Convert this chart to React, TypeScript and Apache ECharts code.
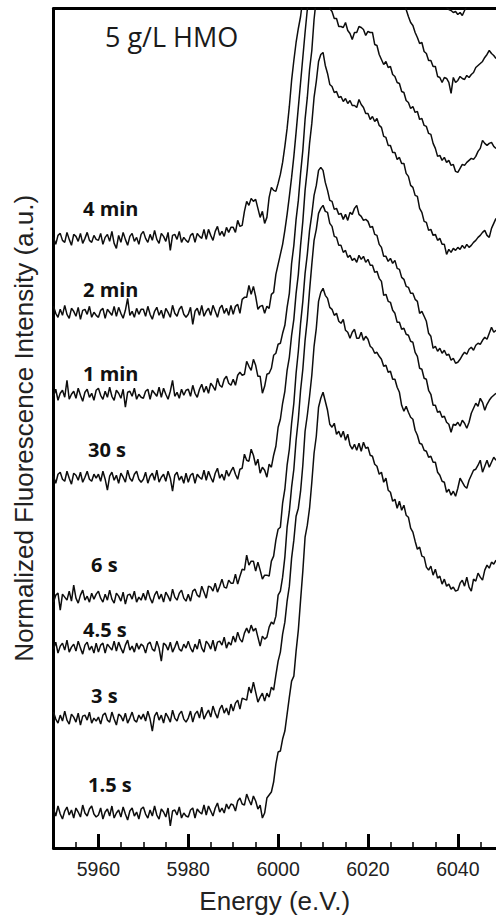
import { useEffect, useRef } from "react";
import * as echarts from "echarts";

// Energy grid (eV): 5950 ... 6048.5 every 0.5 eV
const ENERGY_START = 5950;
const ENERGY_STEP = 0.5;

const MAJOR_TICKS = [5960, 5980, 6000, 6020, 6040];
const MINOR_TICKS = [5955, 5965, 5970, 5975, 5985, 5990, 5995, 6005, 6010, 6015, 6025, 6030, 6035, 6045];

// Normalized fluorescence intensity (a.u., stacked with offsets as in the figure)
const S_1_5s = [
  39,32,42,34,29,37,41,33,38,30,40,36,31,43,35,32,39,42,34,31,
  33,40,29,36,39,32,42,30,35,38,31,41,34,28,37,40,32,36,29,39,
  41,34,30,38,32,42,33,29,39,36,31,40,22,37,38,33,41,30,35,32,
  31,38,40,30,39,36,34,43,33,42,37,32,40,45,36,40,35,44,39,44,
  43,37,47,50,44,43,54,48,43,52,47,39,43,30,35,50,53,56,66,84,
  96,97,109,117,134,151,167,172,197,218,248,277,311,323,340,366,395,412,441,450,
  456,447,438,424,421,425,414,417,411,417,408,414,403,399,404,398,405,397,406,400,
  401,393,392,384,382,374,376,366,370,358,356,347,349,340,347,338,343,333,331,320,
  316,307,299,301,292,291,281,278,282,273,279,270,272,264,269,262,264,259,261,257,
  258,265,268,262,271,261,257,269,267,275,271,268,278,283,280,286,284,288,
];
const S_3s = [
  136,129,125,133,127,137,128,124,134,131,126,135,123,132,133,128,136,125,130,127,
  131,124,133,135,128,126,136,129,123,134,132,127,135,125,130,136,128,126,133,129,
  134,127,137,129,117,132,136,128,133,125,135,131,126,138,130,127,134,137,129,126,
  130,137,126,134,137,130,141,129,134,138,131,142,135,130,139,143,135,140,133,144,
  137,145,148,139,150,149,148,161,155,166,156,146,151,155,147,155,151,161,158,173,
  187,196,214,226,247,262,290,308,332,340,357,383,417,433,452,473,502,520,547,556,
  560,553,550,541,539,533,535,527,525,529,518,516,510,516,519,510,510,516,508,512,
  509,502,500,495,496,492,489,482,483,476,477,469,469,461,456,443,437,442,436,431,
  429,418,413,405,404,398,397,391,392,386,386,376,373,367,366,356,359,353,357,352,
  360,370,366,362,360,368,373,378,379,383,388,376,382,388,381,386,391,388,
];
const S_4_5s = [
  199,206,195,202,205,198,208,196,201,204,197,207,200,194,203,206,198,202,195,205,
  196,203,205,195,204,201,198,207,197,206,200,195,203,208,198,202,196,205,199,204,
  202,195,204,206,199,197,207,200,187,205,203,198,206,196,201,207,199,197,204,200,
  207,200,196,204,199,209,200,196,207,204,199,208,197,206,207,203,211,200,206,203,
  212,206,216,209,206,215,220,215,223,217,220,211,202,212,209,211,221,226,224,232,
  253,257,271,291,321,337,361,379,408,429,458,479,508,529,558,584,608,619,635,640,
  643,637,636,625,622,612,611,603,603,596,598,591,593,588,590,586,593,589,592,586,
  589,583,583,576,577,570,567,553,554,547,546,538,535,526,526,519,520,514,513,507,
  506,496,492,480,479,470,469,458,454,443,443,436,437,431,432,426,424,416,424,423,
  426,422,428,425,420,426,435,440,445,442,450,446,438,444,448,451,453,455,
];
const S_6s = [
  246,253,255,238,254,251,248,257,247,263,250,245,253,258,248,252,246,255,249,254,
  257,250,246,254,248,258,249,245,255,252,247,256,244,253,254,249,257,246,251,248,
  255,248,258,250,245,253,257,249,254,246,256,252,247,259,251,248,255,258,250,247,
  254,247,257,259,253,251,262,256,250,262,261,257,265,256,262,269,261,260,268,265,
  265,274,264,272,279,278,293,283,287,287,277,286,278,269,273,273,272,287,292,308,
  319,321,345,359,383,399,425,445,475,497,525,547,575,594,618,634,653,663,678,681,
  678,666,658,648,647,639,640,634,635,629,634,628,636,634,640,643,634,632,628,629,
  627,621,622,614,613,604,601,592,592,587,590,585,588,580,579,571,569,562,561,555,
  555,549,547,535,537,532,527,515,512,500,502,497,500,495,498,493,494,488,490,485,
  486,489,493,496,494,499,501,498,503,505,504,508,511,509,515,521,516,518,
];
const S_30s = [
  372,365,374,376,369,367,377,370,364,375,373,368,376,366,371,377,369,367,374,370,
  374,367,377,369,358,372,376,368,373,365,375,371,366,378,370,367,374,377,369,366,
  369,376,365,372,375,368,378,366,371,374,367,377,370,357,373,376,368,372,365,375,
  366,373,375,365,374,371,369,378,368,377,371,366,375,380,370,374,368,378,372,377,
  381,374,369,379,380,394,388,387,399,393,383,389,375,381,378,371,384,381,393,402,
  421,429,445,457,478,491,513,529,555,574,603,627,658,679,705,725,751,767,787,794,
  796,783,775,764,762,756,757,751,752,747,750,745,748,743,743,741,749,744,741,735,
  735,729,732,727,730,723,721,712,711,703,703,696,696,689,691,685,685,675,672,663,
  661,653,652,640,636,627,626,618,619,613,614,608,610,604,604,594,599,596,600,598,
  601,599,603,600,604,601,603,606,608,611,613,616,618,613,611,620,625,630,
];
const S_1min = [
  452,459,448,455,458,451,468,449,454,457,450,460,453,447,456,459,451,455,448,458,
  460,453,449,457,451,461,452,448,458,455,450,459,441,456,457,452,460,449,454,451,
  450,457,459,449,458,455,452,461,451,460,454,449,457,468,452,456,450,459,453,458,
  459,452,463,455,451,459,464,456,462,455,465,462,458,470,463,461,469,472,465,463,
  469,463,473,476,473,474,487,482,478,489,483,472,472,455,462,474,475,480,493,495,
  504,505,515,523,541,555,585,603,629,648,675,698,729,751,779,798,829,850,870,883,
  885,868,856,840,837,830,830,822,822,821,826,818,815,809,816,816,822,821,819,813,
  817,816,816,804,803,794,789,784,787,781,782,774,772,766,765,757,756,748,746,740,
  742,736,737,729,730,723,722,715,714,705,700,692,693,688,691,686,688,683,684,677,
  676,680,684,683,686,688,690,689,692,697,700,708,705,703,705,706,702,700,
];
const S_2min = [
  542,535,531,539,533,543,534,530,540,537,532,541,529,538,539,534,542,531,536,533,
  531,538,540,530,539,536,533,542,532,541,535,530,538,550,533,537,531,540,534,539,
  539,532,542,534,529,537,541,533,538,530,540,536,531,543,535,532,539,542,534,531,
  534,541,524,537,540,533,543,532,537,540,533,543,537,531,540,543,535,540,533,543,
  534,542,544,535,549,551,551,563,554,562,552,539,542,543,535,542,540,554,556,574,
  584,594,604,618,634,652,671,692,716,741,766,791,816,839,861,884,906,928,948,961,
  966,955,945,935,928,922,920,918,915,916,914,915,913,912,914,912,911,913,910,908,
  906,904,902,899,896,893,890,887,884,880,876,871,866,861,856,851,846,839,832,826,
  823,816,811,805,806,797,795,788,788,782,782,772,771,766,771,770,766,755,771,766,
  768,772,770,769,773,771,774,776,781,783,785,787,791,794,798,795,793,790,
];
const S_4min = [
  611,604,613,615,608,606,616,609,603,614,612,607,615,605,610,616,608,606,613,609,
  608,615,604,611,614,607,617,605,600,613,606,616,609,603,612,615,607,611,604,614,
  617,610,606,614,608,618,609,605,615,612,607,616,598,613,614,609,617,606,611,608,
  606,613,615,606,615,612,610,619,609,619,613,608,617,622,613,617,612,621,616,621,
  621,616,628,622,623,637,647,643,650,647,649,640,631,637,625,631,651,661,658,657,
  665,674,686,702,720,742,768,788,806,820,832,850,870,895,920,945,970,990,1005,1015,
  1025,1015,1005,998,993,990,988,987,985,986,984,985,983,982,984,981,980,982,979,978,
  976,974,972,969,966,962,958,954,950,946,942,938,934,929,924,919,914,909,904,899,
  894,889,884,879,874,869,865,861,857,853,850,847,845,844,843,841,839,838,836,837,
  834,836,833,838,842,845,848,851,853,856,858,861,863,866,868,870,872,874,
];

const SERIES_NAMES = ["1.5 s", "3 s", "4.5 s", "6 s", "30 s", "1 min", "2 min", "4 min"];
const SERIES_VALUES = [S_1_5s, S_3s, S_4_5s, S_6s, S_30s, S_1min, S_2min, S_4min];

// label positions (layout only)
const LABEL_POS: Record<string, [number, number]> = {
  "4 min": [83, 208],
  "2 min": [83, 289],
  "1 min": [83, 373],
  "30 s": [88, 449],
  "6 s": [91, 564],
  "4.5 s": [83, 629],
  "3 s": [91, 695],
  "1.5 s": [88, 784],
};

const X_MIN = 5950;
const X_MAX = 6048.5;

export default function App() {
  const ref = useRef<HTMLDivElement>(null);

  useEffect(() => {
    if (!ref.current) return;
    const chart = echarts.init(ref.current, null, { renderer: "svg" });

    const series = SERIES_NAMES.map((name, si) => ({
      name,
      type: "line",
      xAxisIndex: 0,
      yAxisIndex: 0,
      showSymbol: false,
      symbol: "none",
      silent: true,
      clip: true,
      lineStyle: { color: "#0d0d0d", width: 1.5 },
      data: SERIES_VALUES[si].map((v, i) => [ENERGY_START + i * ENERGY_STEP, v]),
    }));

    const labelGraphics = SERIES_NAMES.map((name) => ({
      type: "text",
      x: LABEL_POS[name][0],
      y: LABEL_POS[name][1],
      silent: true,
      style: {
        text: name,
        font: 'bold 20px "Open Sans"',
        fill: "#111",
        align: "left",
        verticalAlign: "middle",
        textAlign: "left",
        textVerticalAlign: "middle",
      },
    }));

    const option: any = {
      animation: false,
      backgroundColor: "#fff",
      grid: { left: 53.5, right: 0, top: 8.5, bottom: 72, containLabel: false },
      xAxis: [
        {
          type: "value",
          position: "bottom",
          min: X_MIN,
          max: X_MAX,
          axisLine: { show: true, onZero: false, lineStyle: { color: "#000", width: 3 } },
          axisTick: {
            show: true,
            inside: true,
            length: 14,
            customValues: MAJOR_TICKS,
            lineStyle: { color: "#000", width: 3 },
          },
          axisLabel: {
            show: true,
            customValues: MAJOR_TICKS,
            formatter: (v: number) => String(v),
            fontSize: 19.5,
            fontFamily: '"Liberation Sans", Arial, sans-serif',
            color: "#222",
            margin: 11,
          },
          splitLine: { show: false },
          name: "Energy (e.V.)",
          nameLocation: "middle",
          nameGap: 40,
          nameTextStyle: {
            fontSize: 26,
            fontFamily: '"Liberation Sans", Arial, sans-serif',
            color: "#222",
          },
        },
        {
          type: "value",
          position: "bottom",
          min: X_MIN,
          max: X_MAX,
          axisLine: { show: false, onZero: false },
          axisTick: {
            show: true,
            inside: true,
            length: 6,
            customValues: MINOR_TICKS,
            lineStyle: { color: "#000", width: 1.5 },
          },
          axisLabel: { show: false },
          splitLine: { show: false },
        },
        {
          type: "value",
          position: "top",
          min: X_MIN,
          max: X_MAX,
          axisLine: { show: true, onZero: false, lineStyle: { color: "#000", width: 3 } },
          axisTick: { show: false },
          axisLabel: { show: false },
          splitLine: { show: false },
        },
      ],
      yAxis: {
        type: "value",
        min: 0,
        max: 840,
        axisLine: { show: true, onZero: false, lineStyle: { color: "#000", width: 3 } },
        axisTick: { show: false },
        axisLabel: { show: false },
        splitLine: { show: false },
        name: "Normalized Fluorescence Intensity (a.u.)",
        nameLocation: "middle",
        nameRotate: 90,
        nameGap: 17,
        nameTextStyle: {
          fontSize: 26,
          fontFamily: '"Liberation Sans", Arial, sans-serif',
          color: "#222",
        },
      },
      graphic: [
        {
          type: "text",
          x: 105,
          y: 36,
          silent: true,
          style: {
            text: "5 g/L HMO",
            font: '27px "Open Sans"',
            fill: "#1a1a1a",
            align: "left",
            verticalAlign: "middle",
            textAlign: "left",
            textVerticalAlign: "middle",
          },
        },
        ...labelGraphics,
      ],
      series,
    };

    chart.setOption(option);
    return () => chart.dispose();
  }, []);

  return (
    <div
      ref={ref}
      style={{ position: "absolute", left: 0, top: 0, width: 496, height: 920, background: "#fff" }}
    />
  );
}
